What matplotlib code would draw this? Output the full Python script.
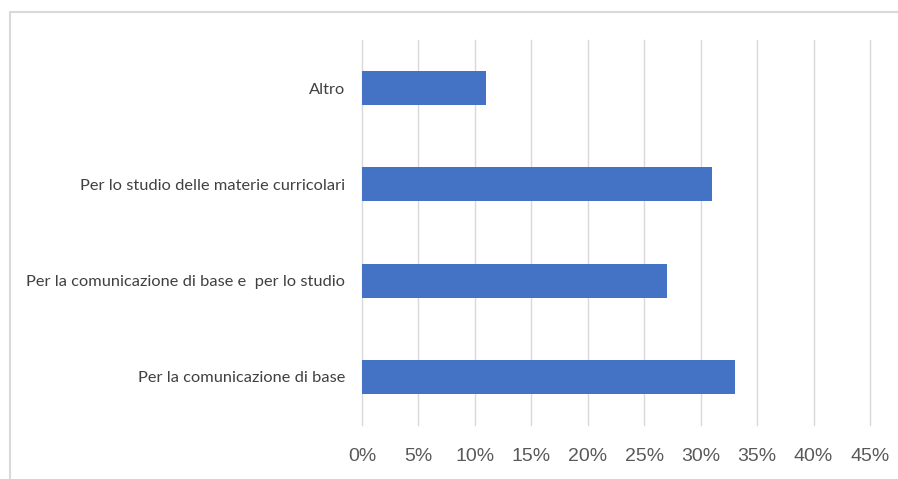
import matplotlib.pyplot as plt
from matplotlib.patches import Rectangle
from matplotlib.ticker import FuncFormatter

categories = ["Per la comunicazione di base",
              "Per la comunicazione di base e  per lo studio",
              "Per lo studio delle materie curricolari",
              "Altro"]
values = [33, 27, 31, 11]
xticks = [0, 5, 10, 15, 20, 25, 30, 35, 40, 45]

W, H = 898, 479
fig = plt.figure(figsize=(W / 100, H / 100), dpi=100)

# chart frame (only top and left edges are inside the image)
fig.patches.append(Rectangle((10 / W, -0.1), 1.2, 1 - 11.5 / H + 0.1,
                             transform=fig.transFigure, fill=False,
                             edgecolor="#d9d9d9", linewidth=1.5))

ax = fig.add_axes([362 / W, 1 - 425 / H, (870 - 362) / W, 385 / H])
ax.barh(range(len(categories)), values, height=0.355, color="#4472c4", zorder=3)

ax.set_xlim(0, 45)
ax.set_ylim(-0.5, len(categories) - 0.5)
ax.set_xticks(xticks)
ax.xaxis.set_major_formatter(FuncFormatter(lambda v, p: f"{v:.0f}%"))
ax.set_yticks(range(len(categories)))
ax.set_yticklabels(categories, family=["Lato", "DejaVu Sans"], fontsize=11.8,
                   color="#404040")
for lbl in ax.get_xticklabels():
    lbl.set_family(["Liberation Sans Narrow", "Liberation Sans"])
    lbl.set_fontsize(14)
    lbl.set_color("#595959")

ax.tick_params(axis="x", length=0, pad=16.5)
ax.tick_params(axis="y", length=0, pad=12)
ax.grid(axis="x", color="#d9d9d9", linewidth=1, zorder=0)
for gl in ax.get_xgridlines():
    gl.set_clip_on(False)
for s in ax.spines.values():
    s.set_visible(False)

fig.savefig("out.png", dpi=100)
